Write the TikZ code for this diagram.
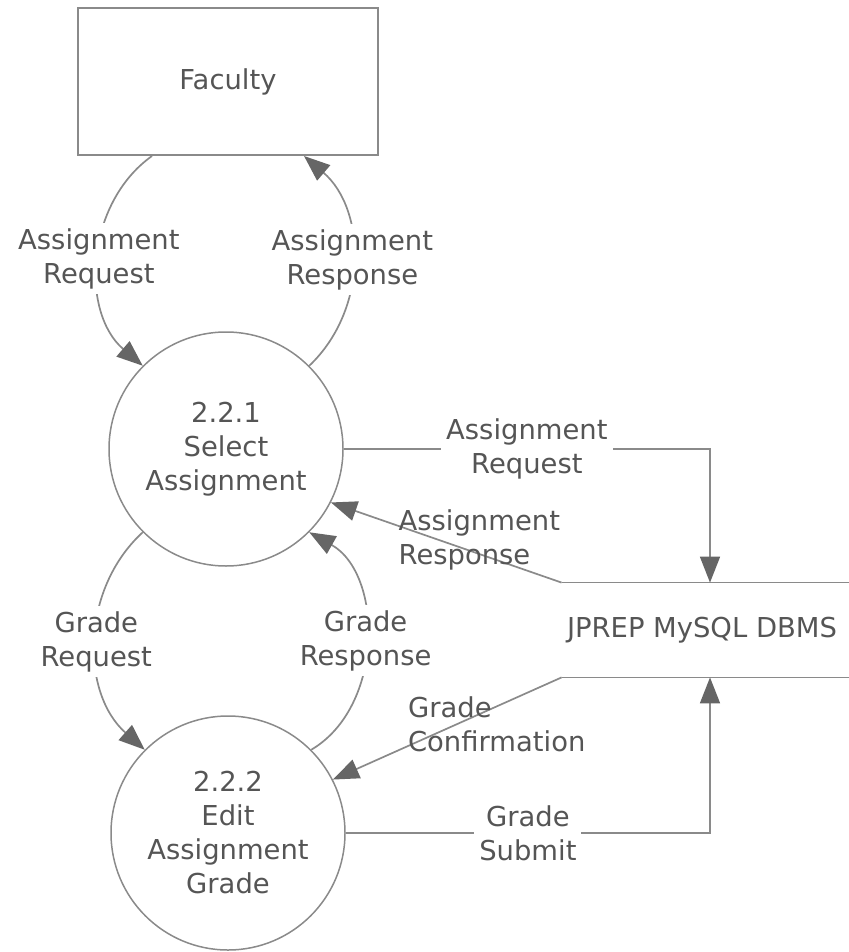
\documentclass[tikz,border=0pt]{standalone}
\usepackage{fontspec}
\setmainfont{DejaVu Sans}
\usetikzlibrary{arrows.meta}
\definecolor{linegray}{HTML}{8A8A8A}
\definecolor{tipgray}{HTML}{666666}
\definecolor{textgray}{HTML}{555555}
\tikzset{
  entity/.style={draw=linegray,line width=1pt,minimum width=150pt,minimum height=73.5pt},
  process/.style={circle,draw=linegray,line width=0.75pt,minimum size=117pt,inner sep=0pt,align=center},
  store/.style={minimum width=148pt,minimum height=47pt,inner sep=0pt},
  flow/.style={draw=linegray,line width=0.85pt,-{Triangle[length=13pt,width=10pt,color=tipgray]}},
  lbl/.style={fill=white,inner sep=2.5pt,align=center},
  freelbl/.style={inner sep=0pt,align=left}
}

\begin{document}
\begin{tikzpicture}[x=0.5pt,y=-0.5pt,font=\fontsize{13.7}{17}\selectfont,text=textgray]
\useasboundingbox (0,0) rectangle (848,952);
\node[entity] (fac) at (228,81.5) {Faculty};
\node[process] (sel) at (226,449) {2.2.1\\Select\\Assignment};
\node[process] (edit) at (228,833) {2.2.2\\Edit\\Assignment\\Grade};
\node[store] (db) at (710,630) {\hspace*{-8pt}JPREP MySQL DBMS};
\draw[linegray,line width=0.85pt] (db.north west) -- (db.north east) (db.south west) -- (db.south east);

% Faculty <-> 2.2.1
\draw[flow] ([xshift=-38pt]fac.south) to[bend right=52] node[lbl] {Assignment\\Request} (sel.135);
\draw[flow] (sel.45) to[bend right=48] node[lbl] {Assignment\\Response} ([xshift=38pt]fac.south);

% 2.2.1 <-> 2.2.2
\draw[flow] (sel.225) to[bend right=48] node[lbl] {Grade\\Request} (edit.135);
\draw[flow] (edit.45) to[bend right=60] node[lbl] {Grade\\Response} (sel.315);

% data store flows
\draw[flow] (sel.east) -| node[lbl,pos=0.25] {Assignment\\Request} (db.north);
\draw[flow] (db.north west) -- node[freelbl,pos=0.71,anchor=west,yshift=-7.25pt] {Assignment\\Response} (sel.-27);
\draw[flow] (db.south west) -- node[freelbl,pos=0.675,anchor=west,yshift=11.25pt] {Grade\\Confirmation} (edit.27);
\draw[flow] (edit.east) -| node[lbl,pos=0.25] {Grade\\Submit} (db.south);
\end{tikzpicture}
\end{document}
